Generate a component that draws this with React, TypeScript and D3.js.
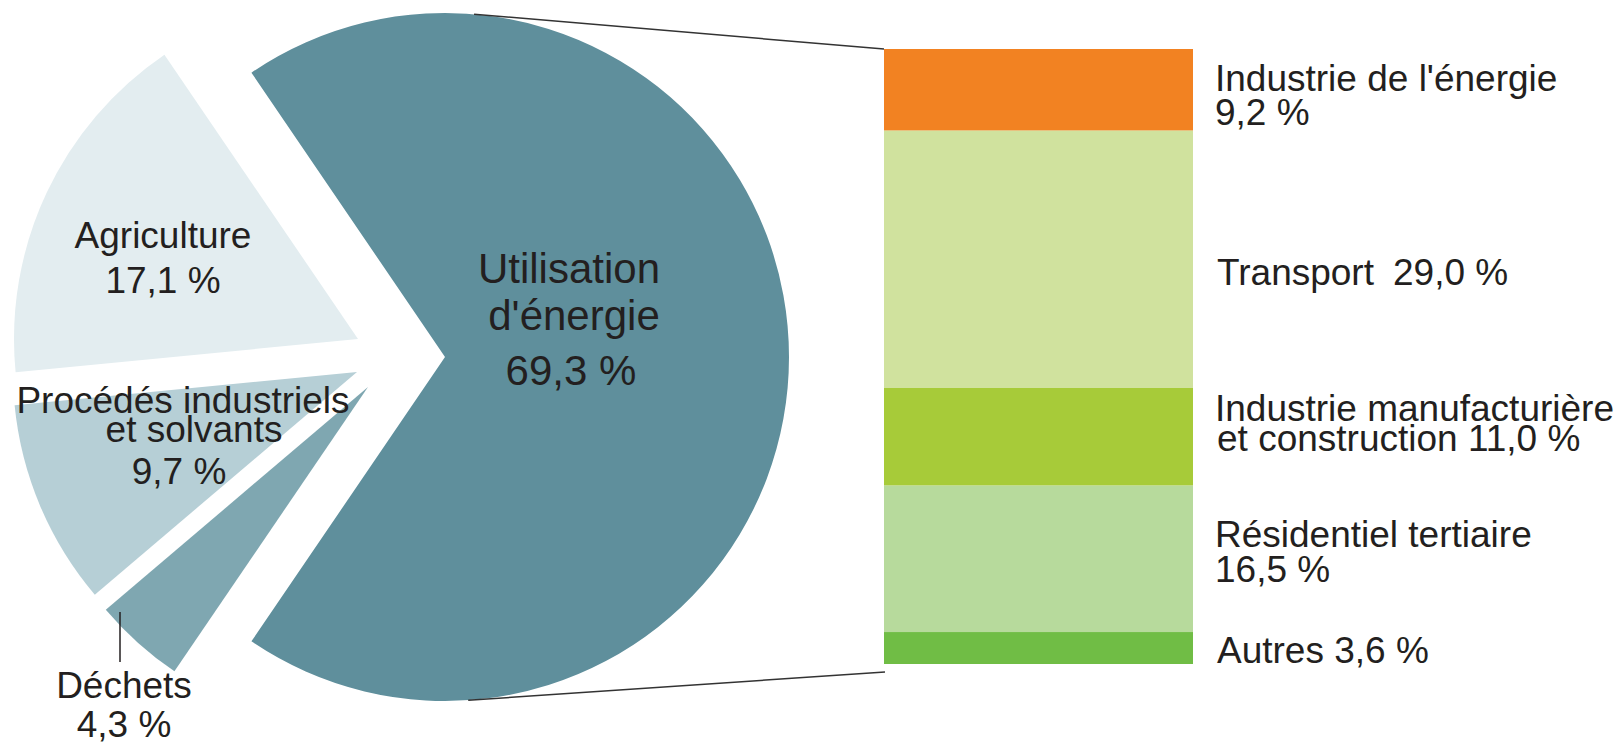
import * as d3 from 'd3'

// pie: clockwise from the big slice
const pieCategories = ["Utilisation d'énergie", 'Déchets', 'Procédés industriels et solvants', 'Agriculture']
const pieValues = [69.3, 4.3, 9.7, 17.1]
const pieColors = ['#5f8f9c', '#7fa7b1', '#b6cfd6', '#e3edf0']

// breakdown of the big slice
const barCategories = ["Industrie de l'énergie", 'Transport', 'Industrie manufacturière et construction', 'Résidentiel tertiaire', 'Autres']
const barValues = [9.2, 29.0, 11.0, 16.5, 3.6]
const barColors = ['#f28222', '#d0e29e', '#a7cb39', '#b7da9c', '#70bd45']

const W = 1619
const H = 742
const cx = 445
const cy = 357
const radius = 344
const barX = 884
const barW = 309
const barTop = 49
const barBottom = 664
const FONT = "'Liberation Sans', Arial, Helvetica, sans-serif"
const TEXT = '#231f20'
const FS = 37

const fmt = d3.formatLocale({ decimal: ',', thousands: '\u00a0', grouping: [3], currency: ['', ''] }).format('.1f')
const pct = (v: number) => `${fmt(v)} %`

// exploded slices are slid out by hand in the original
const explode: Record<string, [number, number]> = {
  "Utilisation d'énergie": [0, 0],
  'Déchets': [-77, 30],
  'Procédés industriels et solvants': [-88, 15],
  'Agriculture': [-87, -18],
}

// label placement: words split into lines at breakAt, value on its own line
const pieLabelLayout: Record<string, { xs: number[]; ys: number[]; breakAt: number; size: number }> = {
  "Utilisation d'énergie": { xs: [569, 574, 571], ys: [283, 330, 385], breakAt: 1, size: 42 },
  'Agriculture': { xs: [163, 163], ys: [248, 293], breakAt: 9, size: FS },
  'Procédés industriels et solvants': { xs: [183, 194, 179], ys: [413, 442, 484], breakAt: 2, size: FS },
  'Déchets': { xs: [124, 124], ys: [698, 737], breakAt: 9, size: FS },
}

function splitLines(cat: string, breakAt: number) {
  const words = cat.split(' ')
  if (breakAt >= words.length) return [cat]
  return [words.slice(0, breakAt).join(' '), words.slice(breakAt).join(' ')]
}

function tangentPoint(px: number, py: number, side: 1 | -1) {
  const dx = px - cx
  const dy = py - cy
  const d = Math.hypot(dx, dy)
  const phi = Math.atan2(dy, dx)
  const a = phi + side * Math.acos(radius / d)
  return [cx + radius * Math.cos(a), cy + radius * Math.sin(a)]
}

export default function App() {
  const total = d3.sum(pieValues)
  const start = Math.PI / 2 - (Math.PI * pieValues[0]) / total
  const pieGen = d3.pie<number>().sort(null).value((d) => d).startAngle(start).endAngle(start + 2 * Math.PI)
  const arcs = pieGen(pieValues)
  const arcGen = d3.arc<d3.PieArcDatum<number>>().innerRadius(0).outerRadius(radius)

  const y = d3.scaleLinear().domain([0, d3.sum(barValues)]).range([barTop, barBottom])
  const ends = Array.from(d3.cumsum(barValues))

  const topStart = tangentPoint(barX, barTop, -1)
  const botEndY = barBottom + 8
  const botStart = tangentPoint(barX + 1, botEndY, 1)

  const v = barValues
  const c = barCategories

  return (
    <svg width={W} height={H} style={{ position: 'absolute', left: 0, top: 0, background: '#fff' }} fontFamily={FONT}>
      <g>
        {arcs.map((a, i) => {
          const [ox, oy] = explode[pieCategories[i]]
          return (
            <path
              key={pieCategories[i]}
              d={arcGen(a) || undefined}
              fill={pieColors[i]}
              transform={`translate(${cx + ox},${cy + oy})`}
            />
          )
        })}
      </g>

      <g fill={TEXT} textAnchor="middle">
        {pieCategories.map((cat, i) => {
          const l = pieLabelLayout[cat]
          const lines = [...splitLines(cat, l.breakAt), pct(pieValues[i])]
          return lines.map((t, j) => (
            <text key={cat + j} x={l.xs[j]} y={l.ys[j]} fontSize={l.size}>
              {t}
            </text>
          ))
        })}
      </g>
      <line x1={120} x2={120} y1={612} y2={662} stroke={TEXT} strokeWidth={1.5} />

      <line x1={topStart[0]} y1={topStart[1]} x2={barX} y2={barTop} stroke="#333" strokeWidth={1.5} />
      <line x1={botStart[0]} y1={botStart[1]} x2={barX + 1} y2={botEndY} stroke="#333" strokeWidth={1.5} />

      <g>
        {barValues.map((val, i) => (
          <rect
            key={barCategories[i]}
            x={barX}
            width={barW}
            y={y(ends[i] - val)}
            height={y(ends[i]) - y(ends[i] - val)}
            fill={barColors[i]}
          />
        ))}
      </g>

      <g fill={TEXT} fontSize={FS}>
        <text x={1215} y={91}>{c[0]}</text>
        <text x={1215} y={125}>{pct(v[0])}</text>

        <text x={1217} y={285}>{c[1]}</text>
        <text x={1393} y={285}>{pct(v[1])}</text>

        <text x={1215} y={421}>{splitLines(c[2], 2)[0]}</text>
        <text x={1217} y={451}>{`${splitLines(c[2], 2)[1]} ${pct(v[2])}`}</text>

        <text x={1215} y={547}>{c[3]}</text>
        <text x={1215} y={582}>{pct(v[3])}</text>

        <text x={1217} y={663}>{`${c[4]} ${pct(v[4])}`}</text>
      </g>
    </svg>
  )
}
